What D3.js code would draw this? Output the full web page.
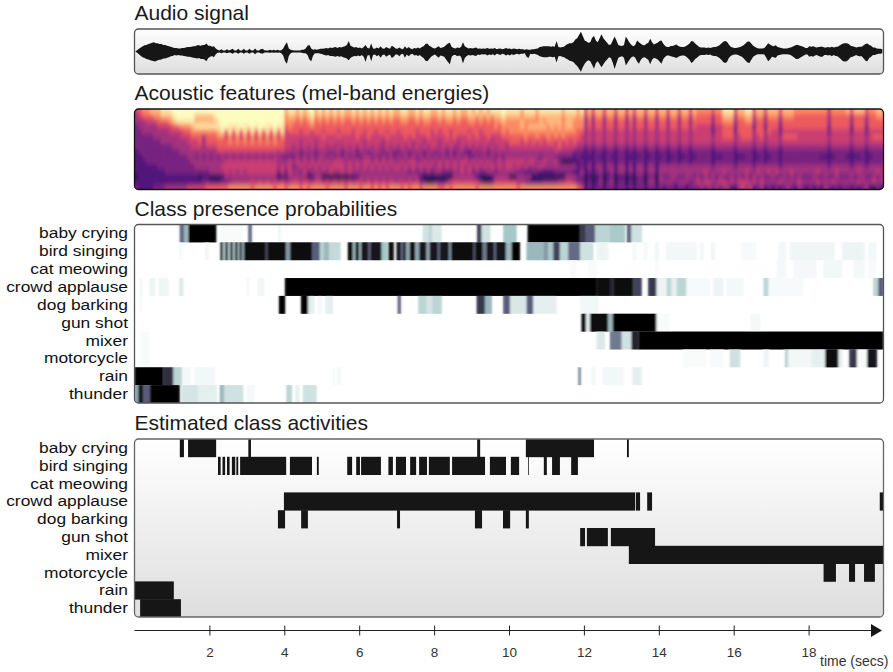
<!DOCTYPE html>
<html>
<head>
<meta charset="utf-8">
<script src="https://cdn.jsdelivr.net/npm/d3@7"></script>
<style>
  html, body { margin: 0; padding: 0; background: #fff; }
  svg { display: block; font-family: "Liberation Sans", Arial, sans-serif; }
</style>
</head>
<body>
<svg id="chart" width="893" height="672"></svg>
<script>
// === Data ===
const classes = ['baby crying', 'bird singing', 'cat meowing', 'crowd applause', 'dog barking',
  'gun shot', 'mixer', 'motorcycle', 'rain', 'thunder'];
const timeTicks = [2, 4, 6, 8, 10, 12, 14, 16, 18];

// waveform envelope, one value per 0.05 s, 100 = half of the panel height
const audioTop = [
  0,6,12,18,24,28,30,34,36,40, 42,38,38,34,34,30,30,26,24,22, 18,16,16,14,14,16,16,18,20,20, 22,24,24,28,28,26,30,30,36,26,
  26,22,24,14,8,4,10,4,4,10, 4,8,12,4,4,12,4,4,12,4, 4,12,4,4,14,4,4,10,12,6, 4,4,8,4,8,4,8,4,6,14,
  30,42,14,8,6,4,4,4,4,8, 8,14,26,30,14,8,10,8,10,12, 12,14,16,14,18,16,18,20,16,20, 18,22,24,30,48,26,22,18,20,16,
  18,14,20,30,16,14,36,14,12,18, 14,24,14,12,20,16,12,26,22,14, 12,18,12,10,24,14,20,14,10,16, 14,18,14,20,24,34,36,26,22,16,
  14,18,24,16,18,22,30,36,40,20, 16,14,18,16,20,42,24,18,14,16, 14,16,18,12,14,12,14,12,16,12, 14,12,16,10,12,14,10,12,16,12,
  14,10,14,12,10,12,10,10,8,10, 8,8,10,10,12,14,20,22,24,24, 24,24,22,24,22,48,20,18,20,22, 30,34,38,38,42,55,60,75,90,70,
  50,45,40,42,62,70,50,42,60,78, 60,50,40,30,32,50,68,50,30,26, 25,30,68,55,40,30,24,30,50,42, 35,30,28,35,40,58,42,32,36,40,
  48,50,35,25,20,20,25,25,28,32, 25,22,20,20,24,30,36,48,46,36, 30,22,18,18,18,16,18,16,18,20, 20,24,28,36,44,48,44,32,22,18,
  16,16,18,20,24,30,38,46,46,36, 26,20,16,14,14,14,16,26,38,32, 26,24,28,20,18,16,14,14,14,16, 18,22,26,30,30,26,24,20,16,16,
  24,22,24,20,18,20,22,22,18,18, 20,18,22,18,20,22,26,32,36,38, 38,34,26,24,22,18,20,22,22,28, 34,36,30,26,18,18,14,12,12,10];
const audioBottom = [
  0,6,12,20,26,30,34,36,40,42, 44,44,40,38,36,32,32,28,26,22, 20,16,18,16,18,18,20,22,24,24, 26,28,30,32,30,34,34,36,44,30,
  24,20,26,12,6,4,8,4,4,8, 4,6,10,4,4,10,4,4,10,4, 4,10,4,4,12,4,4,8,10,5, 4,4,6,4,6,4,6,4,8,18,
  44,56,20,8,5,4,4,4,4,6, 8,8,16,36,44,18,8,8,8,10, 12,16,18,16,20,20,22,24,20,24, 22,26,28,32,40,28,24,20,22,18,
  22,16,24,48,18,16,44,16,14,22, 16,28,16,14,24,18,14,30,24,14, 14,22,12,10,28,14,22,14,10,18, 16,20,16,24,30,42,44,34,24,18,
  14,20,28,18,20,24,36,48,58,24, 16,16,22,18,24,54,30,20,16,18, 16,18,20,14,16,12,14,12,18,14, 16,12,18,10,12,16,10,12,18,14,
  18,12,16,12,10,14,10,10,8,24, 30,10,12,10,12,16,22,24,26,26, 26,24,24,26,24,50,22,20,24,26, 32,36,42,44,48,58,66,78,92,72,
  56,46,40,44,60,78,52,44,58,72, 58,46,36,26,30,50,80,52,28,24, 22,28,64,50,36,26,22,28,46,56, 38,28,26,32,38,58,38,28,32,36,
  46,56,34,24,18,18,22,24,26,30, 24,20,18,18,22,30,38,52,46,34, 28,20,16,16,16,14,16,14,18,20, 20,24,30,38,48,52,48,30,20,16,
  14,14,16,20,24,32,42,50,52,38, 24,18,14,12,12,12,14,28,44,36, 24,26,30,18,16,14,12,12,12,14, 16,22,28,34,34,28,24,18,14,14,
  24,20,24,18,16,20,24,24,16,16, 18,16,22,16,20,22,28,36,44,46, 44,36,26,24,20,16,20,22,22,32, 42,44,30,24,16,16,12,10,10,8];

// mel-band energy levels (0-9), top band first, one digit per 0.1 s, grouped by second
const melLevels = [
  '4566777888 9999999999 9999999999 9999999999 7887878978 7878787787 8787878787 7887787887 7878878778 7878788898 8887888788 8888788878 5757757757 7575775775 7757757757 6666566888 5778857757 7757776666 6666646666 7577756677',
  '3455566777 8999997777 7899999999 9999999999 6776767867 6767676676 7676767676 6776676776 6767767667 7676767787 7776777677 7777677767 3636636636 6363663663 6636636636 5555355777 3667736636 6636665555 5555535555 5355535566',
  '3334445556 7888887777 7789999999 9999999999 6665656756 5656565565 6565656565 5665565665 5656656556 6565656676 6667666676 7777677666 3535535535 5353553553 5535535535 5555355666 3556635535 5535555555 5555535555 5355535555',
  '2333334444 5566678888 8889988898 8989988988 5655555655 5555555555 5555555555 5555555555 5555555555 5555556566 6667677777 6767677666 3535535535 5353553553 5535535535 4444244555 2555525525 5525555555 5555525555 5255525555',
  '2233333334 4445566666 6678585858 5858585858 4555455455 4555455545 5455455455 4555545554 5455455554 5545555565 6666666666 6666666655 3434434434 4343443443 4434434434 4444244555 2555535535 4424444444 4444424444 4244424444',
  '2222233333 3344455535 5566464646 4646464646 4444444444 5444544445 4454444544 4454544454 4445454445 4544544455 5555655655 6565655554 3434434434 4343443443 4434434434 4444344555 3455534534 4435555444 4444434444 4344434555',
  '2222222333 3333444535 5555565656 5656565655 4444344434 4444344444 4344443444 4444344344 4344443444 4444434444 5554545454 5545454544 3434434434 4343443443 4434434434 4444344444 3444434434 4434444444 4444434444 4344434444',
  '2222222222 3333344434 4455555555 5555555555 4434343434 4343434343 4343433434 3434343434 4343433434 3434343443 4444444444 4445444433 2323323323 3232332332 3323323323 3333233333 2333323323 3323333333 3333323333 3233323333',
  '1222222222 2233333333 3344444444 4444444434 3333233323 3323323332 3323332332 2332333233 2332323321 3233233333 3333333333 3343333222 1212212212 2121221221 2212212212 2222122222 1222212212 2212222222 2222212222 2122212222',
  '1122222222 2222332323 2323232323 2323232332 2223232323 3232323232 2332323232 3232323232 3232323232 2323232323 3333333323 3322222121 1112112112 2111121121 1211211211 2222111222 1112211211 2212222222 2221111222 1111211222',
  '1112222222 2222233333 3333444444 4444444433 3434343434 3434443434 3443434343 3434433434 3434343443 4343433434 4444344334 3342000112 1212212212 2121221221 2212212212 2222122222 1222212212 2212222222 2222212222 2122212222',
  '1111112222 2222223333 3334444444 4444444434 3423434343 4344443434 3434343434 4343434343 3434343434 3434343434 4343433343 3333333312 1313313313 3131331331 3333333333 3333233333 2333323333 3323333333 3333323333 3233323333',
  '1111111122 2222222222 3333434343 4444444424 2433242333 3343343433 3333333333 3332323232 3322233434 2322332333 3322112211 1122222113 1212312313 3131331331 3333333333 3343333433 3334334334 3433343333 3343333433 3334333343',
  '0111111111 1111111011 0001333333 3333333301 1333330133 0000000011 3333333333 3333331000 0000033333 3100013333 0033330000 0000033322 0101201201 1010220220 3223322332 3232323223 2323232322 3223232322 2322322322 2322322323',
  '1111111111 1111111122 1112223333 3434343434 3344344344 3434343434 4343434343 3434342100 1112444444 4420014444 4433211112 2223344322 0201302302 2020220330 3333233323 4344334434 3444343433 3343333433 3343334333 3334333433',
  '2111122233 3333444445 5555566666 6566666566 5666565666 6566665666 5665656566 6565665666 6556566666 6566666666 6656666666 6666666654 1212212212 2121221221 2122122122 2323232331 1343412312 1212321321 2121321212 2121231021'
].map(row => row.replace(/ /g, '').split('').map(Number));

// class probabilities: [start secs, end secs, probability]
const babyProbs = [[1.21,1.33,.55],[1.33,1.44,.3],[1.44,2.18,1],[2.3,2.9,.03],[3.04,3.13,.55],[3.84,3.9,.08],[7.7,7.85,.15],[7.85,7.95,.2],[7.95,8.2,.12],
  [9.15,9.27,.7],[9.27,9.5,.15],[9.85,10.2,.25],[10.5,11.9,1],[11.9,12.05,.75],[12.05,12.3,.6],[12.3,12.7,.2],[12.7,13.1,.24],[13.15,13.27,.55],[13.27,13.55,.15]];
const birdProbs = [[1.2,1.26,.05],[1.9,1.96,.08],[2.3,2.37,.9],[2.37,2.42,.2],[2.42,2.5,.9],[2.5,2.55,.2],[2.55,2.63,.9],[2.63,2.68,.2],[2.68,2.76,.9],[2.76,2.8,.2],
  [2.8,2.87,.9],[2.87,2.92,.3],[2.92,3.5,.95],[3.5,3.55,.75],[3.55,4.05,.95],[4.05,4.15,.4],[4.15,4.75,.95],[4.75,4.95,.6],[4.95,5.05,.2],[5.05,5.2,.3],[5.2,5.5,.18],[5.7,5.83,.95],[5.83,5.9,.3],[5.9,6.0,.95],[6.0,6.05,.3],
  [6.05,6.25,.9],[6.25,6.3,.6],[6.3,6.6,.9],[6.6,6.75,.25],[6.78,6.92,.95],[7.0,7.12,.9],[7.12,7.17,.55],[7.17,7.25,.9],[7.25,7.35,.35],[7.35,7.5,.95],[7.5,7.6,.35],[7.6,7.8,.9],[7.8,7.88,.35],[7.88,8.1,.9],[8.1,8.15,.55],[8.15,8.4,.9],[8.4,8.45,.4],
  [8.45,9.05,.95],[9.05,9.1,.7],[9.1,9.3,.95],[9.3,9.4,.5],[9.4,9.6,.9],[9.6,9.65,.55],[9.65,9.92,.9],[9.92,10.07,.3],[10.07,10.29,1],[10.47,10.92,.3],[10.92,11.05,.4],[11.05,11.18,.25],[11.18,11.36,.7],[11.36,11.58,.2],
  [11.58,11.9,.55],[11.9,12.25,.15],[12.35,12.65,.08],[13.3,13.4,.05],[13.6,13.7,.05],[13.9,14,.06],[14.2,15,.06],[15.1,15.2,.05],[15.4,15.5,.07],[16.2,16.6,.04],[17.2,17.4,.06],[17.5,18.7,.07],[18.9,19.5,.08],[19.6,19.8,.06]];
const catProbs = [[11.63,11.8,.03],[12.1,12.35,.03],[13.9,14,.03],[17.15,17.4,.05],[17.6,18.2,.05],[18.4,18.9,.06],[19.2,19.5,.05],[19.6,19.8,.04]];
const crowdProbs = [[.15,.2,.06],[.4,.55,.08],[.65,.9,.07],[1.2,1.3,.12],[3,3.05,.05],[3.3,3.45,.07],[4.02,12.34,1],[12.34,12.7,.95],[12.7,12.79,.85],[12.79,13.32,.95],
  [13.32,13.54,.7],[13.72,13.94,.75],[13.94,14.21,.08],[14.21,14.34,.2],[14.34,14.48,.1],[14.48,14.74,.2],[14.74,15.37,.04],[15.46,15.72,.08],[15.81,16.26,.05],[16.8,16.93,.2],[16.93,17.86,.04],[19.73,19.86,.2],[19.86,20,.6]];
const dogProbs = [[.15,.2,.04],[3.86,4.02,1],[4.45,4.64,1],[4.64,4.8,.1],[4.9,5.0,.06],[5.1,5.3,.1],[7.03,7.11,.55],[7.58,7.8,.2],[7.8,7.95,.14],[7.95,8.2,.2],[9.14,9.36,.75],[9.36,9.54,.3],[9.85,10.03,.6],[10.03,10.47,.13],
  [10.47,10.65,.6],[10.65,11.27,.1],[11.9,12.39,.06]];
const gunProbs = [[11.94,12.06,.95],[12.06,12.16,.1],[12.16,12.65,.95],[12.65,12.77,.3],[12.77,13.94,.98],[13.94,14.3,.03],[16.45,16.7,.05]];
const mixerProbs = [[.15,.4,.03],[12.34,12.56,.12],[12.7,13.01,.5],[13.01,13.27,.15],[13.27,13.46,.85],[13.46,20,1]];
const motorProbs = [[.15,.4,.03],[14.65,15.27,.03],[15.37,15.72,.04],[15.9,16.17,.15],[16.8,16.93,.08],[17.37,17.46,.2],[17.46,18.08,.06],[18.08,18.44,.1],
  [18.44,18.8,.95],[18.8,18.9,.1],[19.09,19.29,.75],[19.29,19.56,.04],[19.56,19.82,.9]];
const rainProbs = [[0,.77,1],[.77,1.04,.8],[1.04,1.26,.2],[1.3,1.5,.05],[1.6,2.15,.06],[5.3,5.35,.05],[5.42,5.5,.05],[11.85,11.92,.4],[12.2,12.3,.05],[12.5,13.05,.06],[13.3,13.55,.1]];
const thunderProbs = [[0,.1,.35],[.1,.24,.9],[.24,.41,.6],[.41,1.21,1],[1.26,1.7,.14],[1.7,2.2,.1],[2.28,2.4,.3],[2.4,2.9,.15],[3.0,3.2,.05],[4.06,4.2,.2],[4.3,4.4,.1],[4.5,4.86,.15]];
const classProbs = [babyProbs, birdProbs, catProbs, crowdProbs, dogProbs, gunProbs, mixerProbs, motorProbs, rainProbs, thunderProbs];

// estimated activities: [start secs, end secs]
const babyActive = [[1.21,1.32],[1.43,2.18],[3.04,3.11],[9.15,9.23],[10.45,12.27],[13.15,13.2]];
const birdActive = [[2.23,2.3],[2.35,2.42],[2.47,2.54],[2.6,2.69],[2.72,2.77],[2.82,4.05],[4.15,4.74],[4.87,4.92],[5.68,5.81],[5.92,6.02],[6.05,6.58],[6.78,6.9],
  [6.98,7.25],[7.36,7.52],[7.6,7.81],[7.86,8.42],[8.48,9.36],[9.49,9.92],[10.05,10.27],[10.51,10.53],[10.93,11.01],[11.15,11.36],[11.66,11.84]];
const catActive = [];
const crowdActive = [[3.99,13.37],[13.39,13.5],[13.69,13.82],[19.9,20]];
const dogActive = [[3.83,4.02],[4.45,4.63],[7.01,7.09],[9.09,9.28],[9.84,10.03],[10.45,10.53]];
const gunActive = [[11.9,12.03],[12.08,12.64],[12.72,13.9]];
const mixerActive = [[13.2,20]];
const motorActive = [[18.4,18.73],[19.08,19.24],[19.48,19.77]];
const rainActive = [[0,1.05]];
const thunderActive = [[.15,1.24]];
const classActive = [babyActive, birdActive, catActive, crowdActive, dogActive, gunActive, mixerActive, motorActive, rainActive, thunderActive];

// === Layout ===
const left = 134.5, right = 883.5;
const audioBox = { top: 29, bottom: 74 };
const melBox = { top: 109, bottom: 189.5 };
const probBox = { top: 224.5, bottom: 403 };
const activeBox = { top: 439, bottom: 617 };
const boxW = right - left;

const svg = d3.select('#chart');
const x = d3.scaleLinear().domain([0, 20]).range([left, right]);
const ink = '#161616';
const defs = svg.append('defs');

// panel background
const grad = defs.append('linearGradient').attr('id', 'panel-bg').attr('x1', 0).attr('x2', 0).attr('y1', 0).attr('y2', 1);
grad.append('stop').attr('offset', '0%').attr('stop-color', '#ffffff');
grad.append('stop').attr('offset', '100%').attr('stop-color', '#dedede');

defs.append('filter').attr('id', 'blur-mel').attr('x', '-2%').attr('y', '-10%').attr('width', '104%').attr('height', '120%')
  .append('feGaussianBlur').attr('stdDeviation', '1.8 2.4');
defs.append('filter').attr('id', 'blur-prob').attr('x', '-2%').attr('y', '-5%').attr('width', '104%').attr('height', '110%')
  .append('feGaussianBlur').attr('stdDeviation', '1 0.5');
defs.append('filter').attr('id', 'blur-wave').attr('x', '-2%').attr('y', '-10%').attr('width', '104%').attr('height', '120%')
  .append('feGaussianBlur').attr('stdDeviation', '0.35');

function panelBg(box, fill) {
  svg.append('rect').attr('x', left).attr('y', box.top).attr('width', boxW).attr('height', box.bottom - box.top)
    .attr('rx', 4).attr('fill', fill);
}
function panelBorder(box, color) {
  svg.append('rect').attr('x', left).attr('y', box.top).attr('width', boxW).attr('height', box.bottom - box.top)
    .attr('rx', 4).attr('fill', 'none').attr('stroke', color).attr('stroke-width', 1.3);
}
function clipFor(id, box) {
  defs.append('clipPath').attr('id', id).append('rect').attr('x', left).attr('y', box.top)
    .attr('width', boxW).attr('height', box.bottom - box.top).attr('rx', 4);
}
function title(text, y) {
  svg.append('text').attr('x', left).attr('y', y).attr('font-size', 21).attr('fill', '#1a1a1a').text(text);
}
// rows are tighter than the text's line box, so a smaller font is stretched sideways to the reference width
function rowLabels(band) {
  svg.append('g').selectAll('text').data(classes).join('text')
    .attr('transform', d => `translate(128,${band(d) + band.bandwidth() / 2 + 5}) scale(1.13,1)`)
    .attr('text-anchor', 'end').attr('font-size', 15.4).attr('fill', '#111').text(d => d);
}

// === Audio signal ===
title('Audio signal', 20);
panelBg(audioBox, 'url(#panel-bg)');
const audioMid = 51.5;
const ampUp = d3.scaleLinear().domain([0, 100]).range([audioMid, audioBox.top + 0.5]);
const ampDown = d3.scaleLinear().domain([0, 100]).range([audioMid, audioBox.bottom - 0.5]);
const audioArea = d3.area()
  .x((d, i) => x(i * 0.05 + 0.02))
  .y0((d, i) => ampDown(audioBottom[i]))
  .y1(d => ampUp(d));
svg.append('path').attr('d', audioArea(audioTop)).attr('fill', ink).attr('filter', 'url(#blur-wave)');
panelBorder(audioBox, '#555');

// === Mel-band energies ===
title('Acoustic features (mel-band energies)', 100);
clipFor('mel-clip', melBox);
const melX = d3.scaleBand().domain(d3.range(melLevels[0].length)).range([left, right]);
const melY = d3.scaleBand().domain(d3.range(melLevels.length)).range([melBox.top, melBox.bottom]);
const melColor = d3.scaleSequential(d3.interpolateMagma).domain([-1.5, 8.5]).clamp(true);
const melCells = melLevels.flatMap((row, r) => row.map((v, c) => ({ r, c, v })));
const melG = svg.append('g').attr('clip-path', 'url(#mel-clip)');
// plain copy underneath so the blurred one does not fade out at the edges
[null, 'url(#blur-mel)'].forEach(f => {
  melG.append('g').attr('filter', f).selectAll('rect').data(melCells).join('rect')
    .attr('x', d => melX(d.c)).attr('y', d => melY(d.r))
    .attr('width', melX.bandwidth() + 0.5).attr('height', melY.bandwidth() + 0.5)
    .attr('fill', d => melColor(d.v));
});
panelBorder(melBox, '#111');

// === Class presence probabilities ===
title('Class presence probabilities', 216);
panelBg(probBox, '#fff');
clipFor('prob-clip', probBox);
const probY = d3.scaleBand().domain(classes).range([probBox.top, probBox.bottom]);
// reversed "bone" look: white, pale teal, slate, black
const probColor = d3.scaleLinear().domain([0, .08, .25, .625, 1]).range(['#ffffff', '#eef4f4', '#a6c7c7', '#545473', '#000000']);
const probSegs = classes.flatMap((name, i) => classProbs[i].map(s => ({ name, start: s[0], end: s[1], p: s[2] })));
const probG = svg.append('g').attr('clip-path', 'url(#prob-clip)');
[null, 'url(#blur-prob)'].forEach(f => {
  probG.append('g').attr('filter', f).attr('opacity', f ? 1 : 0.35).selectAll('rect').data(probSegs).join('rect')
    .attr('x', d => x(d.start)).attr('y', d => probY(d.name))
    .attr('width', d => x(d.end) - x(d.start)).attr('height', probY.bandwidth())
    .attr('fill', d => probColor(d.p));
});
panelBorder(probBox, '#555');
rowLabels(probY);

// === Estimated class activities ===
title('Estimated class activities', 430);
panelBg(activeBox, 'url(#panel-bg)');
clipFor('active-clip', activeBox);
const activeY = d3.scaleBand().domain(classes).range([activeBox.top, activeBox.bottom]);
const activeSegs = classes.flatMap((name, i) => classActive[i].map(s => ({ name, start: s[0], end: s[1] })));
svg.append('g').attr('clip-path', 'url(#active-clip)').selectAll('rect').data(activeSegs).join('rect')
  .attr('x', d => x(d.start)).attr('y', d => activeY(d.name))
  .attr('width', d => x(d.end) - x(d.start)).attr('height', activeY.bandwidth() + 0.4)
  .attr('fill', ink);
panelBorder(activeBox, '#666');
rowLabels(activeY);

// === Time axis ===
const axisY = 630.5;
const axis = svg.append('g').attr('transform', `translate(0,${axisY})`)
  .call(d3.axisBottom(x).tickValues(timeTicks).tickSize(5).tickPadding(12).tickSizeOuter(0));
axis.select('.domain').remove();
axis.selectAll('.tick line').attr('y1', -5).attr('stroke', '#222');
axis.selectAll('.tick text').attr('font-size', 13.5).attr('font-family', 'inherit').attr('fill', '#333');
svg.append('line').attr('x1', left).attr('x2', 872).attr('y1', axisY).attr('y2', axisY).attr('stroke', '#222').attr('stroke-width', 1.2);
svg.append('path').attr('d', d3.line()([[871, 624], [882, 630.5], [871, 637]])).attr('fill', ink);
svg.append('text').attr('x', 820).attr('y', 666).attr('font-size', 14).attr('fill', '#333').text('time (secs)');
</script>
</body>
</html>
